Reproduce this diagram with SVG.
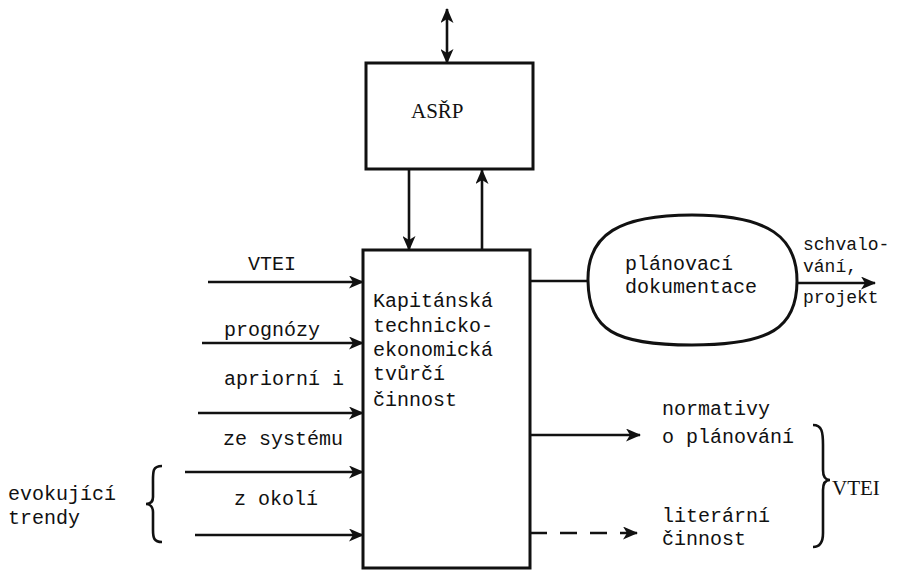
<svg xmlns="http://www.w3.org/2000/svg" width="912" height="570" viewBox="0 0 912 570">
<style>
  .t { font-family: "Liberation Mono", "DejaVu Sans Mono", monospace; font-size: 20px; fill: #111; }
  .sm { font-size: 18px; }
  .s { font-family: "Liberation Serif", "DejaVu Serif", serif; font-size: 21px; fill: #111; }
  .box { fill: none; stroke: #111; stroke-width: 3; }
  .ln { fill: none; stroke: #111; stroke-width: 2.6; }
  .dash { stroke-dasharray: 17 13; }
</style>
<defs>
  <marker id="ah" viewBox="0 0 15 13" refX="14" refY="6.5" markerWidth="15" markerHeight="13" markerUnits="userSpaceOnUse" orient="auto-start-reverse">
    <path d="M0,0 L15,6.5 L0,13 L4,6.5 Z" fill="#111"/>
  </marker>
</defs>
<rect width="912" height="570" fill="#fff"/>

<g id="asrp">
  <rect class="box" x="366" y="63" width="167" height="106"/>
  <text class="s" x="411" y="118">ASŘP</text>
</g>

<g id="main">
  <rect class="box" x="363" y="250" width="167" height="318"/>
  <text class="t" x="373" y="307">Kapitánská</text>
  <text class="t" x="373" y="332">technicko-</text>
  <text class="t" x="373" y="356">ekonomická</text>
  <text class="t" x="373" y="380">tvůrčí</text>
  <text class="t" x="373" y="406">činnost</text>
</g>

<g id="plan">
  <path class="box" d="M588,281 C587,234 620,215 692,215 C770,215 797,238 797,281 C797,328 770,345 692,345 C614,345 589,330 588,281 Z"/>
  <text class="t" x="625" y="270">plánovací</text>
  <text class="t" x="625" y="293">dokumentace</text>
</g>

<g id="labels">
  <text class="t" x="248" y="270">VTEI</text>
  <text class="t" x="224" y="336">prognózy</text>
  <text class="t" x="224" y="385">apriorní i</text>
  <text class="t" x="223" y="445">ze systému</text>
  <text class="t" x="234" y="505">z okolí</text>
  <text class="t" x="8" y="500">evokující</text>
  <text class="t" x="8" y="524">trendy</text>
  <text class="t sm" x="803" y="250">schvalo-</text>
  <text class="t sm" x="803" y="272">vání,</text>
  <text class="t sm" x="803" y="303">projekt</text>
  <text class="t" x="662" y="415">normativy</text>
  <text class="t" x="662" y="443">o plánování</text>
  <text class="t" x="662" y="522">literární</text>
  <text class="t" x="662" y="545">činnost</text>
  <text class="s" x="832" y="495">VTEI</text>
</g>

<g id="connectors">
  <line class="ln" x1="447" y1="63" x2="447" y2="9" marker-end="url(#ah)" marker-start="url(#ah)"/>
  <line class="ln" x1="409" y1="169" x2="409" y2="250" marker-end="url(#ah)"/>
  <line class="ln" x1="482" y1="250" x2="482" y2="170" marker-end="url(#ah)"/>
  <line class="ln" x1="530" y1="281" x2="588" y2="281"/>
  <line class="ln" x1="797" y1="283" x2="875" y2="283" marker-end="url(#ah)"/>
  <line class="ln" x1="208" y1="282" x2="363" y2="282" marker-end="url(#ah)"/>
  <line class="ln" x1="202" y1="343" x2="363" y2="343" marker-end="url(#ah)"/>
  <line class="ln" x1="198" y1="413" x2="363" y2="413" marker-end="url(#ah)"/>
  <line class="ln" x1="185" y1="472" x2="363" y2="472" marker-end="url(#ah)"/>
  <line class="ln" x1="195" y1="535" x2="363" y2="535" marker-end="url(#ah)"/>
  <line class="ln" x1="530" y1="435" x2="640" y2="435" marker-end="url(#ah)"/>
  <line class="ln dash" x1="530" y1="533" x2="637" y2="533" marker-end="url(#ah)"/>
  <path class="ln" d="M162,466 C152,466 153,472 153,485 L153,497 C153,502 150,504 146,504 C150,504 153,507 153,512 L153,530 C153,538 154,542 162,542"/>
  <path class="ln" d="M813,425 C822,425 823,432 823,445 L823,470 C823,476 825,480 830,480 C825,480 823,484 823,490 L823,533 C823,542 820,547 813,547"/>
</g>
</svg>
